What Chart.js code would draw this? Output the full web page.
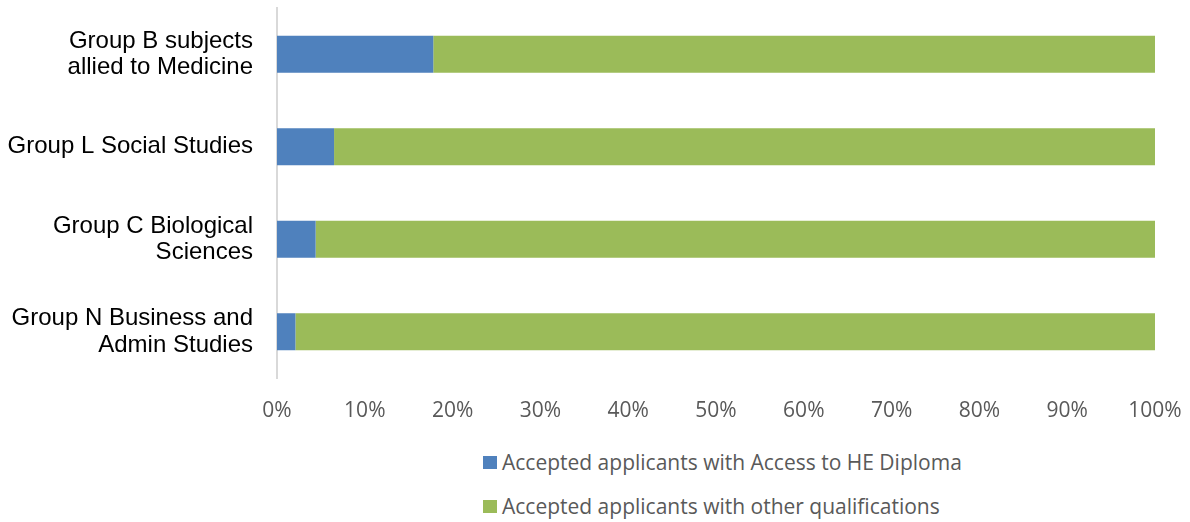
<!DOCTYPE html>
<html>
<head>
<meta charset="utf-8">
<script src="https://cdn.jsdelivr.net/npm/chart.js@4/dist/chart.umd.min.js"></script>
<style>
  html, body { margin: 0; padding: 0; background: #fff; }
  #wrap { position: relative; width: 1190px; height: 522px; }
  #c { position: absolute; left: 0; top: 0; }
  #legend { position: absolute; left: 483px; top: 440px; font-family: "Open Sans", sans-serif; font-size: 21px; color: #595959; }
  .item { display: flex; align-items: center; height: 44px; margin-top: 0; white-space: nowrap; }
  .item .box { width: 14px; height: 13px; margin-right: 5px; }
</style>
</head>
<body>
<div id="wrap">
  <canvas id="c" width="1190" height="440"></canvas>
  <div id="legend"></div>
</div>
<script>
const categories = [
  ["Group B subjects", "allied to Medicine"],
  "Group L Social Studies",
  ["Group C Biological", "Sciences"],
  ["Group N Business and", "Admin Studies"]
];
const accessValues = [17.8, 6.5, 4.4, 2.1];
const otherValues = [82.2, 93.5, 95.6, 97.9];
const seriesNames = ["Accepted applicants with Access to HE Diploma", "Accepted applicants with other qualifications"];
const seriesColors = ["#4F81BD", "#9BBB59"];

const chart = new Chart(document.getElementById('c'), {
  type: 'bar',
  data: {
    labels: categories,
    datasets: [
      { label: seriesNames[0], data: accessValues, backgroundColor: seriesColors[0], borderWidth: 0 },
      { label: seriesNames[1], data: otherValues, backgroundColor: seriesColors[1], borderWidth: 0 }
    ]
  },
  options: {
    indexAxis: 'y',
    responsive: false,
    animation: false,
    maintainAspectRatio: false,
    layout: { padding: { top: 8, right: 35, left: 0, bottom: 0 } },
    plugins: { legend: { display: false }, tooltip: { enabled: false } },
    datasets: { bar: { barPercentage: 0.4, categoryPercentage: 1.0 } },
    scales: {
      x: {
        stacked: true,
        min: 0, max: 100,
        ticks: {
          stepSize: 10,
          callback: v => v + '%',
          color: '#595959',
          font: { family: '"Open Sans", sans-serif', size: 21 },
          padding: 20,
          maxRotation: 0
        },
        grid: { display: false, drawTicks: false },
        border: { display: false },
        afterFit: s => { s.height = 62; s.paddingLeft = 0; s.paddingRight = 0; }
      },
      y: {
        stacked: true,
        ticks: {
          color: '#000000',
          font: { family: '"Liberation Sans", Arial, sans-serif', size: 24, lineHeight: 1.1 },
          padding: 24
        },
        grid: { display: false, drawTicks: false },
        border: { display: true, color: '#D9D9D9', width: 2 },
        afterFit: s => { s.width = 277; s.paddingTop = 0; s.paddingBottom = 0; }
      }
    }
  }
});

const lg = document.getElementById('legend');
seriesNames.forEach((n, i) => {
  const d = document.createElement('div');
  d.className = 'item';
  d.innerHTML = '<span class="box" style="background:' + seriesColors[i] + '"></span><span>' + n + '</span>';
  lg.appendChild(d);
});
</script>
</body>
</html>
